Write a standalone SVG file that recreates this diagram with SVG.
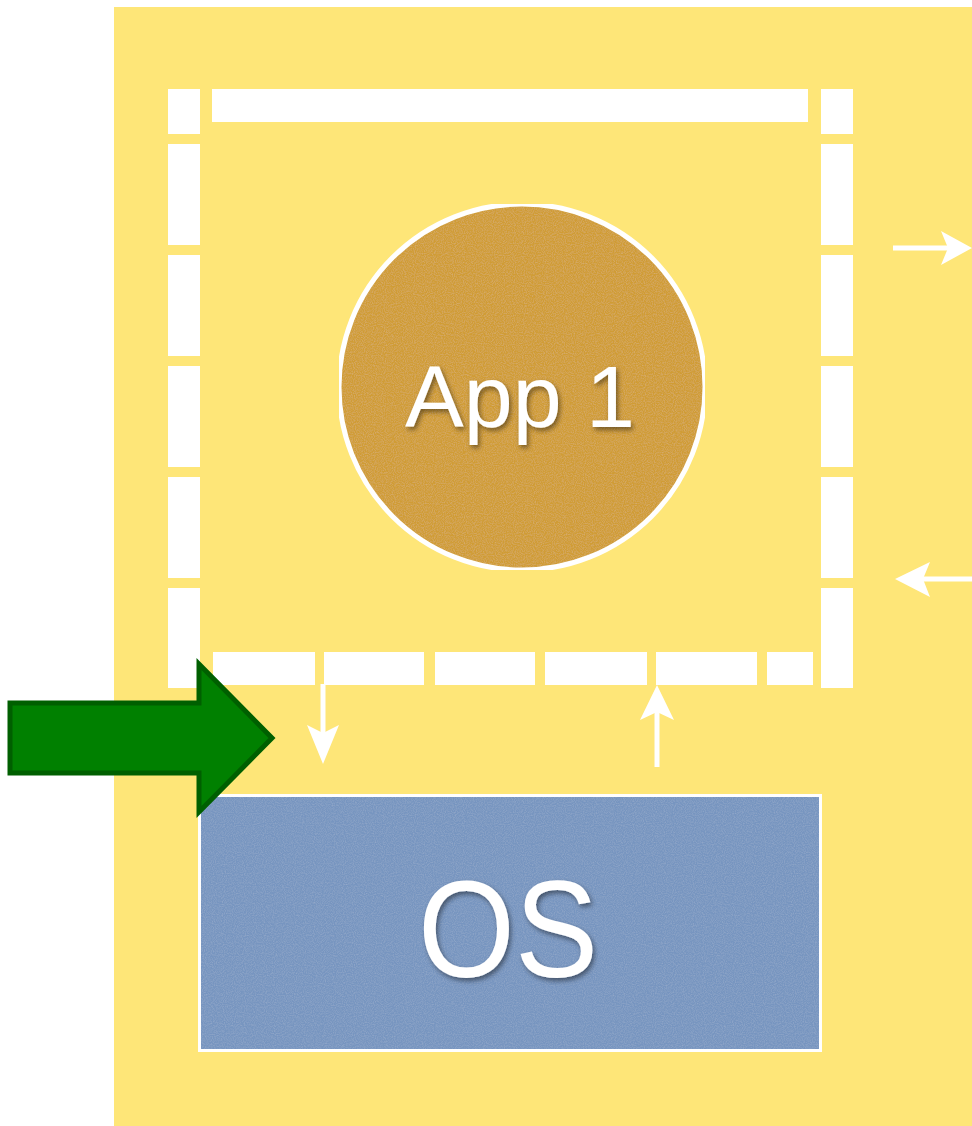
<svg xmlns="http://www.w3.org/2000/svg" width="972" height="1126" viewBox="0 0 972 1126">
<style>
.w{fill:#ffffff}
.lbl{fill:#ffffff;font-family:"Liberation Sans",Arial,sans-serif;text-anchor:middle;filter:url(#sh)}
.ln{stroke:#ffffff;stroke-width:5;fill:none}
</style>
<defs>
<filter id="sh" x="-20%" y="-20%" width="140%" height="140%">
<feDropShadow dx="2" dy="3" stdDeviation="2.5" flood-color="#000" flood-opacity="0.45"/>
</filter>
<filter id="grain" x="0" y="0" width="100%" height="100%">
<feTurbulence type="fractalNoise" baseFrequency="0.9" numOctaves="2" seed="3" result="n"/>
<feColorMatrix in="n" type="matrix" values="0 0 0 0 1  0 0 0 0 1  0 0 0 0 1  0 0 0 0.22 -0.08" result="a"/>
<feComposite in="a" in2="SourceGraphic" operator="in" result="b"/>
<feMerge><feMergeNode in="SourceGraphic"/><feMergeNode in="b"/></feMerge>
</filter>
</defs>
<rect x="0" y="0" width="972" height="1126" fill="#ffffff"/>
<g id="background"><rect x="114" y="7" width="858" height="1119" fill="#fee678"/></g>
<g id="container">
<rect class="w" x="168" y="89" width="32" height="45"/>
<rect class="w" x="168" y="144" width="32" height="101"/>
<rect class="w" x="168" y="255" width="32" height="101"/>
<rect class="w" x="168" y="366" width="32" height="101"/>
<rect class="w" x="168" y="477" width="32" height="101"/>
<rect class="w" x="168" y="588" width="32" height="100"/>
<rect class="w" x="821" y="89" width="32" height="45"/>
<rect class="w" x="821" y="144" width="32" height="101"/>
<rect class="w" x="821" y="255" width="32" height="101"/>
<rect class="w" x="821" y="366" width="32" height="101"/>
<rect class="w" x="821" y="477" width="32" height="101"/>
<rect class="w" x="821" y="588" width="32" height="100"/>
<rect class="w" x="212" y="89" width="596" height="33"/>
<rect class="w" x="213" y="652" width="102" height="33"/>
<rect class="w" x="324" y="652" width="100" height="33"/>
<rect class="w" x="435" y="652" width="100" height="33"/>
<rect class="w" x="545" y="652" width="102" height="33"/>
<rect class="w" x="656" y="652" width="101" height="33"/>
<rect class="w" x="767" y="652" width="46" height="33"/>
</g>
<g id="app1">
<circle cx="522" cy="387" r="183" fill="#d09c36" stroke="#ffffff" stroke-width="5" filter="url(#grain)"/>
<text class="lbl" x="520" y="427" font-size="88" textLength="230" lengthAdjust="spacingAndGlyphs">App 1</text>
</g>
<g id="os">
<rect x="198.5" y="794.5" width="623" height="257" fill="#7795c0" stroke="#ffffff" stroke-width="5" filter="url(#grain)"/>
<text class="lbl" x="508" y="977" font-size="138" textLength="180" lengthAdjust="spacingAndGlyphs">OS</text>
</g>
<g id="connectors">
<line class="ln" x1="323" y1="684" x2="323" y2="735"/>
<polygon class="w" points="323,764 307,725 323,733 339,725"/>
<line class="ln" x1="657" y1="767" x2="657" y2="712"/>
<polygon class="w" points="657,685 640,720 657,712 674,720"/>
<line class="ln" x1="893" y1="248" x2="950" y2="248"/>
<polygon class="w" points="972,248 941,231 948,248 941,265"/>
<line class="ln" x1="972" y1="579" x2="922" y2="579"/>
<polygon class="w" points="895,579 930,562 923,579 930,597"/>
</g>
<g id="pointer">
<polygon points="10,703 199,703 199,664 272,738 199,812 199,773 10,773" fill="#008000" stroke="#005f00" stroke-width="5" stroke-linejoin="miter"/>
</g>
</svg>
